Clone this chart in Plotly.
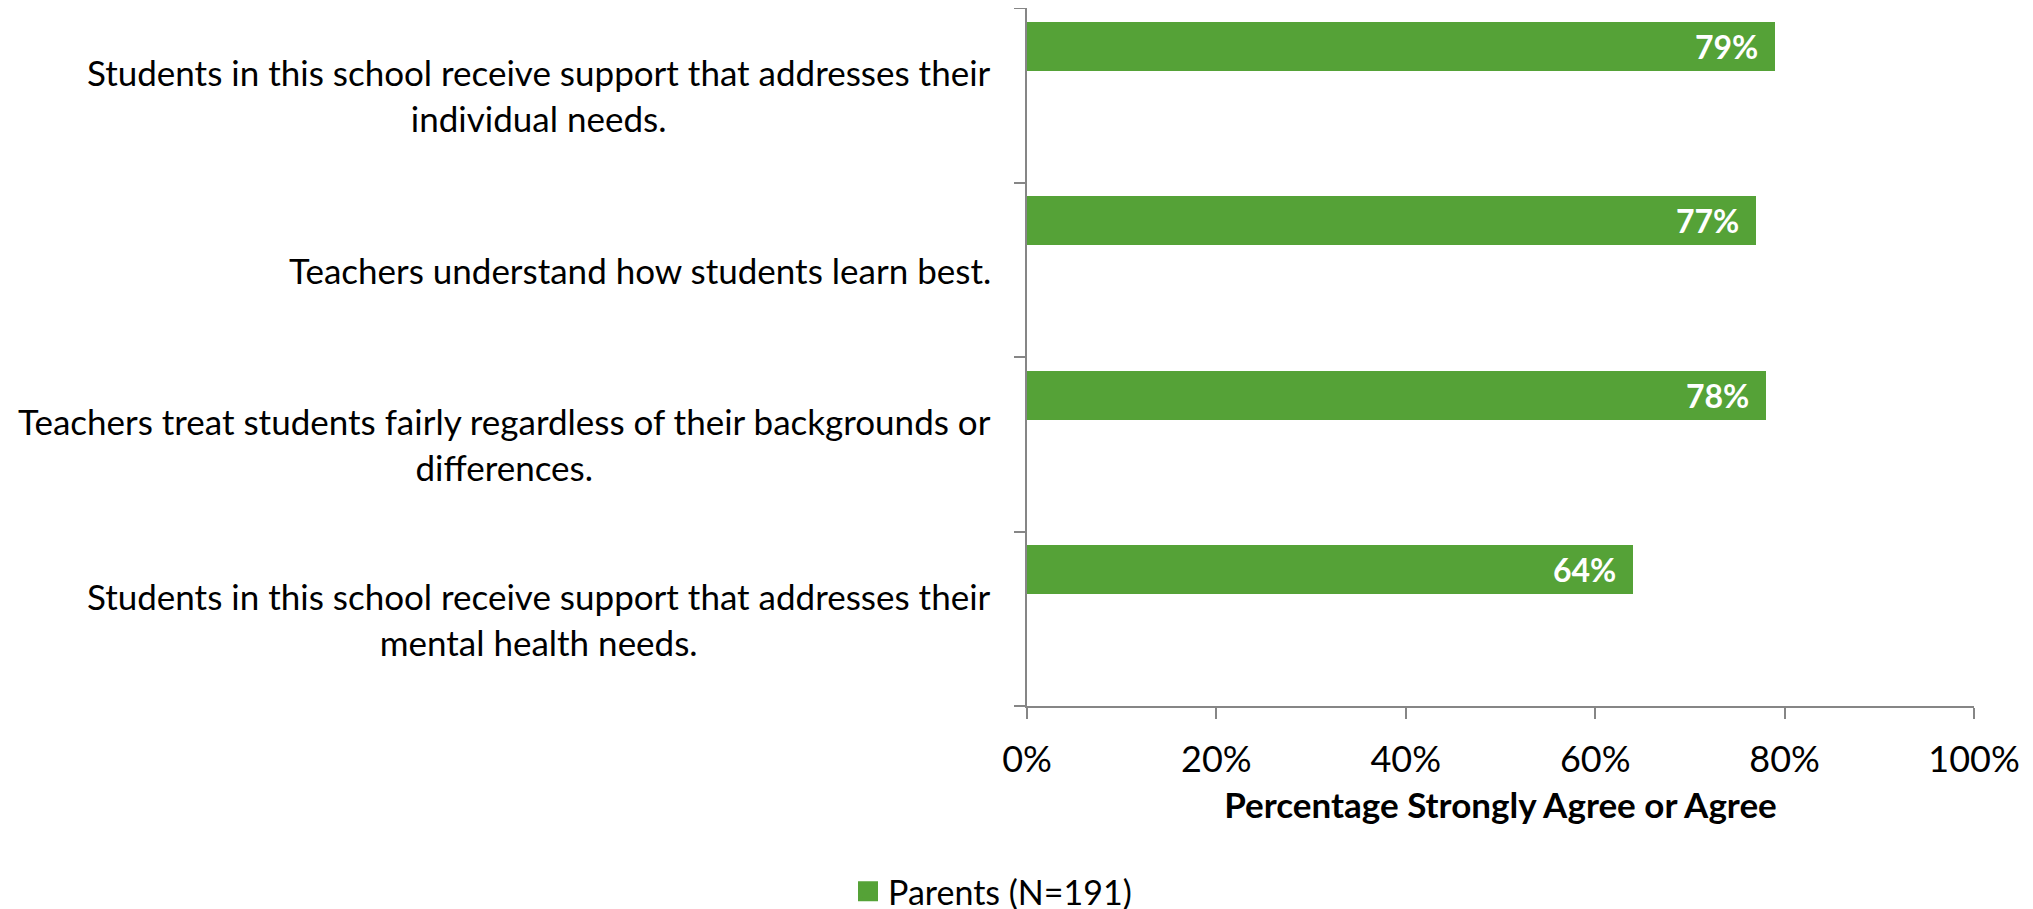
import plotly.graph_objects as go

categories = [
    "Students in this school receive support that addresses their<br>individual needs.",
    "Teachers understand how students learn best.",
    "Teachers treat students fairly regardless of their backgrounds or<br>differences.",
    "Students in this school receive support that addresses their<br>mental health needs.",
]
parents = [0.79, 0.77, 0.78, 0.64]
series_name = "Parents (N=191)"
x_ticks = [0, 0.2, 0.4, 0.6, 0.8, 1.0]
x_title = "Percentage Strongly Agree or Agree"

GREEN = "#55A237"
AXIS = "#868686"
FONT = "Lato"

fig = go.Figure()
fig.add_trace(go.Bar(
    y=list(range(len(categories))),
    x=parents,
    orientation="h",
    name=series_name,
    marker=dict(color=GREEN, line=dict(width=0)),
    width=0.281,
    offset=-0.421,
    hoverinfo="skip",
    showlegend=False,
))
# legend entry (larger square swatch)
fig.add_trace(go.Scatter(
    x=[None], y=[None], mode="markers", name=series_name,
    marker=dict(symbol="square", size=16, color=GREEN, line=dict(color=GREEN, width=4)),
    hoverinfo="skip",
))

annotations = []
for i, (cat, v) in enumerate(zip(categories, parents)):
    annotations.append(dict(
        x=0, xref="paper", y=i, yref="y",
        text=cat, showarrow=False, xanchor="right", yanchor="middle",
        align="center", xshift=-34,
        font=dict(family=FONT, size=35, color="#000000"),
    ))
    annotations.append(dict(
        x=v, xref="x", y=i - 0.28, yref="y",
        text=f"<b>{round(v*100)}%</b>", showarrow=False,
        xanchor="right", yanchor="middle", xshift=-15,
        font=dict(family=FONT, size=32, color="#FFFFFF"),
    ))

fig.update_layout(
    width=2033, height=909,
    margin=dict(l=1019, r=67, t=0, b=211, autoexpand=False),
    paper_bgcolor="white", plot_bgcolor="white",
    font=dict(family=FONT, size=35, color="#000000"),
    showlegend=True,
    legend=dict(orientation="h", x=-0.189, xanchor="left", y=-0.266, yanchor="middle",
                font=dict(family=FONT, size=34), itemsizing="trace"),
    annotations=annotations,
    bargap=0,
)
fig.update_xaxes(
    range=[0, 1], tickvals=x_ticks, tickformat=".0%",
    showgrid=False, zeroline=False,
    showline=True, linecolor=AXIS, linewidth=2,
    ticks="outside", ticklen=11, tickwidth=2, tickcolor=AXIS,
    ticklabelstandoff=10,
    tickfont=dict(family=FONT, size=36),
    title=dict(text=f"<b>{x_title}</b>", font=dict(family=FONT, size=35), standoff=14),
)
fig.update_yaxes(
    range=[len(categories) - 0.5, -0.5],
    tickvals=[k - 0.5 for k in range(len(categories) + 1)],
    ticktext=[""] * (len(categories) + 1),
    showgrid=False, zeroline=False,
    showline=True, linecolor=AXIS, linewidth=2,
    ticks="outside", ticklen=11, tickwidth=2, tickcolor=AXIS,
)

fig.write_html("out.html")
